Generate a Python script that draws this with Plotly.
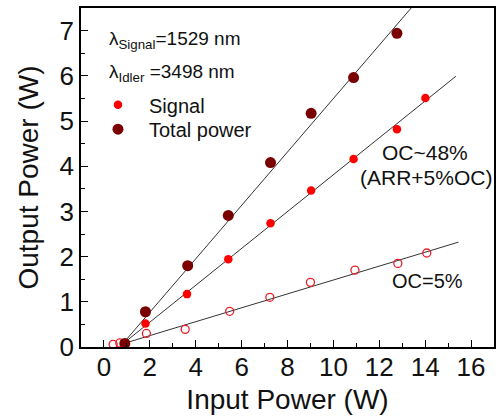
import plotly.graph_objects as go

# ---- data ----
input_total = [0.91, 1.81, 3.65, 5.42, 7.26, 9.03, 10.88, 12.77]
total_power = [0.08, 0.78, 1.80, 2.91, 4.08, 5.17, 5.96, 6.94]

input_signal = [1.81, 3.62, 5.42, 7.26, 9.03, 10.88, 12.77, 14.01]
signal_power = [0.52, 1.17, 1.94, 2.74, 3.46, 4.16, 4.82, 5.51]

input_oc5 = [0.40, 0.69, 1.85, 3.54, 5.48, 7.23, 9.00, 10.94, 12.81, 14.07]
oc5_power = [0.06, 0.09, 0.30, 0.39, 0.79, 1.10, 1.43, 1.70, 1.85, 2.08]

# linear-fit lines (start / end in data units)
fit_total_x = [0.80, 13.39]
fit_total_y = [0.06, 7.50]
fit_signal_x = [0.80, 15.34]
fit_signal_y = [0.06, 5.99]
fit_oc5_x = [0.75, 15.45]
fit_oc5_y = [0.06, 2.32]

x_ticks = [0, 2, 4, 6, 8, 10, 12, 14, 16]
y_ticks = [0, 1, 2, 3, 4, 5, 6, 7]

FONT = "Liberation Sans, Arial, sans-serif"
TOTAL_COLOR = "#7a0000"
SIGNAL_COLOR = "#ff0000"
OC5_COLOR = "#e8202a"
LINE_COLOR = "#333333"

fig = go.Figure()

for fx, fy in [(fit_total_x, fit_total_y), (fit_signal_x, fit_signal_y), (fit_oc5_x, fit_oc5_y)]:
    fig.add_trace(go.Scatter(x=fx, y=fy, mode="lines", showlegend=False,
                             line=dict(color=LINE_COLOR, width=1), hoverinfo="skip"))

fig.add_trace(go.Scatter(x=input_oc5, y=oc5_power, mode="markers", showlegend=False,
                         marker=dict(symbol="circle-open", size=8, color=OC5_COLOR,
                                     line=dict(width=1.3, color=OC5_COLOR))))
fig.add_trace(go.Scatter(x=input_signal, y=signal_power, mode="markers", name="Signal",
                         legend="legend",
                         marker=dict(symbol="circle", size=8.5, color=SIGNAL_COLOR)))
fig.add_trace(go.Scatter(x=input_total, y=total_power, mode="markers", name="Total power",
                         legend="legend2",
                         marker=dict(symbol="circle", size=11, color=TOTAL_COLOR)))

annotations = [
    dict(text="λ<sub>Signal</sub>=1529 nm", x=0.062, y=0.906, font=dict(size=19)),
    dict(text="λ<sub>Idler</sub> =3498 nm", x=0.062, y=0.808, font=dict(size=19)),
]
for a in annotations:
    a.update(xref="paper", yref="paper", xanchor="left", yanchor="middle",
             showarrow=False)
annotations += [
    dict(text="OC~48%", x=0.834, y=0.575, xref="paper", yref="paper",
         xanchor="center", yanchor="middle", showarrow=False, font=dict(size=21)),
    dict(text="(ARR+5%OC)", x=0.836, y=0.501, xref="paper", yref="paper",
         xanchor="center", yanchor="middle", showarrow=False, font=dict(size=21)),
    dict(text="OC=5%", x=0.8386, y=0.194, xref="paper", yref="paper",
         xanchor="center", yanchor="middle", showarrow=False, font=dict(size=20)),
]

axis_common = dict(
    showline=True, linecolor="black", linewidth=1.5, mirror=True,
    showgrid=False, zeroline=False,
    ticks="inside", ticklen=7, tickwidth=1, tickcolor="black",
    tickfont=dict(size=26, color="#111", family=FONT),
)

legend_common = dict(xanchor="left", yanchor="top",
                     bgcolor="rgba(0,0,0,0)", borderwidth=0,
                     font=dict(size=20, color="#111", family=FONT),
                     itemsizing="trace", itemwidth=52)

fig.update_layout(
    width=498, height=417,
    margin=dict(l=81, r=2, t=8, b=70),
    paper_bgcolor="white", plot_bgcolor="white",
    font=dict(family=FONT, color="#111"),
    xaxis=dict(range=[-1, 17], tickvals=x_ticks, ticklabelstandoff=-4,
               minor=dict(dtick=1, ticks="inside", ticklen=4, tickcolor="black"),
               title=dict(text="Input Power (W)", font=dict(size=28), standoff=8),
               **axis_common),
    yaxis=dict(range=[0, 7.5], tickvals=y_ticks,
               minor=dict(dtick=0.5, ticks="inside", ticklen=4, tickcolor="black"),
               title=dict(text="Output Power (W)", font=dict(size=28), standoff=13),
               **axis_common),
    legend=dict(x=0.0145, y=0.772, **legend_common),
    legend2=dict(x=0.0145, y=0.700, **legend_common),
    annotations=annotations,
    showlegend=True,
)

fig.write_html("out.html")
